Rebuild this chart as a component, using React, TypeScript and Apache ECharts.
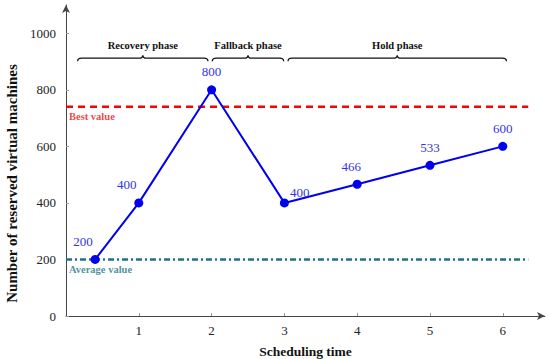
import React, { useEffect, useRef } from "react";
import * as echarts from "echarts";

const xValues = [0.4, 1, 2, 3, 4, 5, 6];
const yValues = [200, 400, 800, 400, 466, 533, 600];
const bestValue = 740;
const averageValue = 200;
const refLineEnd = 6.35;
const phaseNames = ["Recovery phase", "Fallback phase", "Hold phase"];
const phaseStarts = [0.16, 2.01, 3.05];
const phaseEnds = [1.95, 2.99, 6.05];
const braceLevel = 912;
const yTicks = [0, 200, 400, 600, 800, 1000];

const FONT = "'Liberation Serif', serif";

export default function App() {
  const ref = useRef<HTMLDivElement>(null);
  useEffect(() => {
    const chart = echarts.init(ref.current!, null, { renderer: "svg" });
    const labelPos: any[] = [
      { position: "top", offset: [-12, -2] },
      { position: "top", offset: [-12, -2] },
      { position: "top", offset: [0, -2] },
      { position: "right", offset: [-4, -10] },
      { position: "top", offset: [-6, -2] },
      { position: "top", offset: [0, -2] },
      { position: "top", offset: [0, -2] },
    ];
    const lineData = xValues.map((x, i) => ({
      value: [x, yValues[i]],
      label: labelPos[i],
    }));
    const braceData = phaseNames.map((n, i) => [phaseStarts[i], phaseEnds[i], braceLevel, n]);
    chart.setOption({
      animation: false,
      grid: { left: 66, right: 5, top: 5, bottom: 43, outerBoundsMode: "none", containLabel: false },
      xAxis: {
        type: "value",
        min: 0,
        max: 6.58,
        interval: 1,
        name: "Scheduling time",
        nameLocation: "middle",
        nameGap: 28,
        nameTextStyle: { fontFamily: FONT, fontWeight: "bold", fontSize: 13.5, color: "#111" },
        axisLine: { lineStyle: { color: "#444", width: 1 }, symbol: ["none", "arrow"], symbolSize: [6, 8] },
        axisTick: { inside: true, length: 3, lineStyle: { color: "#999" } },
        axisLabel: { showMinLabel: false, showMaxLabel: false, fontFamily: FONT, fontSize: 13, color: "#222", margin: 8 },
        splitLine: { show: false },
      },
      yAxis: {
        type: "value",
        min: 0,
        max: 1100,
        interval: 200,
        name: "Number of reserved virtual machines",
        nameLocation: "middle",
        nameGap: 43,
        nameRotate: 90,
        nameTextStyle: {
          fontFamily: FONT,
          fontWeight: "bold",
          fontSize: 15,
          color: "#111",
          padding: [0, 46, 0, 0],
        },
        axisLine: { show: true, lineStyle: { color: "#444", width: 1 }, symbol: ["none", "arrow"], symbolSize: [6, 8] },
        axisTick: { show: true, inside: true, length: 3, lineStyle: { color: "#999" } },
        axisLabel: {
          showMaxLabel: false,
          fontFamily: FONT,
          fontSize: 13,
          color: "#222",
          margin: 10,
          formatter: (v: number) => (yTicks.includes(v) ? String(v) : ""),
        },
        splitLine: { show: false },
      },
      series: [
        {
          type: "line",
          data: [[0, bestValue], [refLineEnd, bestValue]],
          symbol: "none",
          lineStyle: { color: "#ff0000", width: 2.5, type: [7, 5] },
          silent: true,
          z: 1,
        },
        {
          type: "line",
          data: [[0, averageValue], [refLineEnd, averageValue]],
          symbol: "none",
          lineStyle: { color: "#1f7382", width: 2.5, type: [6, 3, 2, 3] },
          silent: true,
          z: 1,
        },
        {
          type: "scatter",
          data: [
            { value: [0, bestValue], label: { formatter: "Best value", color: "#ee1111" } },
            { value: [0, averageValue], label: { formatter: "Average value", color: "#1f7382" } },
          ],
          symbolSize: 0,
          silent: true,
          label: {
            show: true,
            position: "right",
            offset: [-2, 10],
            fontFamily: FONT,
            fontWeight: "bold",
            fontSize: 10.5,
          },
        },
        {
          type: "line",
          data: lineData,
          symbol: "circle",
          symbolSize: 9,
          itemStyle: { color: "#0000ee" },
          lineStyle: { color: "#0000ee", width: 2 },
          label: { show: true, fontFamily: FONT, fontSize: 13, color: "#3333e6" },
          z: 3,
        },
        {
          type: "custom",
          silent: true,
          data: braceData,
          renderItem: (params: any, api: any) => {
            const a = api.coord([api.value(0), api.value(2)]);
            const b = api.coord([api.value(1), api.value(2)]);
            const y = a[1];
            const x0 = a[0];
            const x1 = b[0];
            const m = (x0 + x1) / 2;
            const r = 4;
            const d =
              `M${x0},${y + 3} Q${x0},${y} ${x0 + r},${y} L${m - r},${y} Q${m},${y} ${m},${y - 3} ` +
              `Q${m},${y} ${m + r},${y} L${x1 - r},${y} Q${x1},${y} ${x1},${y + 3}`;
            const name = braceData[params.dataIndex][3] as string;
            return {
              type: "group",
              children: [
                {
                  type: "path",
                  shape: { pathData: d },
                  style: { fill: "none", stroke: "#111", lineWidth: 1.3 },
                },
                {
                  type: "text",
                  x: m,
                  y: y - 13,
                  style: {
                    text: name,
                    fontFamily: FONT,
                    fontWeight: "bold",
                    fontSize: 10.5,
                    fill: "#111",
                    align: "center",
                    verticalAlign: "middle",
                  },
                },
              ],
            };
          },
        },
      ],
    });
    return () => chart.dispose();
  }, []);
  return <div ref={ref} style={{ width: 550, height: 359, position: "absolute", left: 0, top: 0 }} />;
}
